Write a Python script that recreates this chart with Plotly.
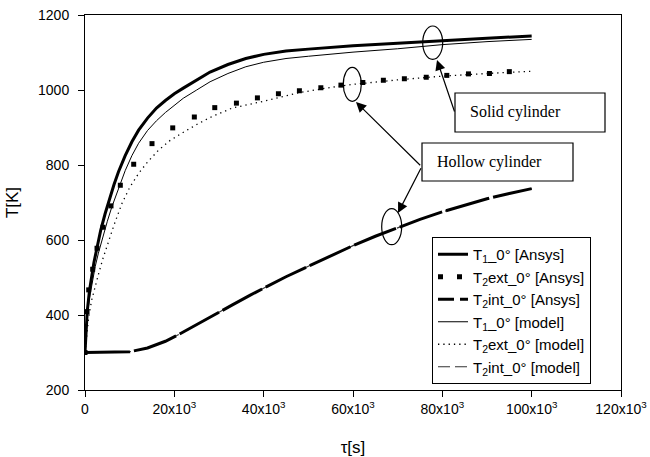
import plotly.graph_objects as go

# ---------------- data ----------------
t_T1_ansys = [0, 250, 500, 1000, 1500, 2000, 2700, 3500, 4500, 5500, 6500, 7500, 9000, 10500, 12000,
              14000, 16000, 18000, 20000, 22000, 25000, 28000, 32000, 36000, 40000, 45000, 50000,
              55000, 60000, 70000, 80000, 90000, 100000]
T1_ansys = [300, 370, 410, 465, 505, 540, 580, 625, 670, 712, 748, 782, 825, 862, 893,
            925, 952, 972, 990, 1005, 1027, 1048, 1068, 1084, 1095, 1104, 1109,
            1114, 1118, 1125, 1132, 1138, 1144]

t_T2ext_ansys = [0, 450, 830, 1720, 2690, 4030, 5820, 7910, 10900, 15000, 19640, 24480, 29050,
                 33900, 38600, 43300, 48000, 52800, 57300, 62200, 66800, 71500, 76400, 81000,
                 85850, 90550, 95000]
T2ext_ansys = [300, 409, 467, 522, 578, 634, 691, 746, 802, 857, 899, 928, 953,
               965, 979, 990, 998, 1006, 1013, 1020, 1026, 1030, 1034, 1039,
               1043, 1044, 1049]

t_T2int = [0, 5000, 10000, 14000, 18000, 21000, 25000, 29000, 33000, 37000, 41000, 45000,
           50000, 55000, 60000, 65000, 70000, 75000, 80000, 85000, 90000, 95000, 100000]
T2int_ansys = [300, 300, 302, 312, 330, 348, 375, 402, 427, 453, 478, 502,
               530, 558, 585, 610, 633, 655, 675, 693, 710, 724, 737]
T2int_model = [300, 300, 302, 312, 330, 348, 375, 402, 427, 453, 478, 502,
               530, 558, 585, 610, 633, 655, 675, 693, 710, 724, 737]

t_T1_model = [0, 250, 500, 1000, 1500, 2300, 3000, 3800, 5000, 6000, 7000, 8000, 9000, 10500,
              12000, 14000, 16000, 18000, 20000, 22000, 25000, 28000, 32000, 36000, 40000,
              45000, 50000, 55000, 60000, 70000, 80000, 90000, 100000]
T1_model = [300, 350, 395, 445, 482, 530, 565, 600, 650, 688, 722, 753, 785, 825,
            858, 892, 918, 940, 960, 978, 1000, 1022, 1044, 1062, 1074,
            1084, 1090, 1096, 1101, 1110, 1121, 1129, 1135]

t_T2ext_model = [0, 400, 830, 1500, 2200, 3070, 4000, 5300, 6500, 8290, 10000, 12030, 14000,
                 16500, 19000, 21700, 25000, 28400, 33000, 40000, 48000, 55000, 60000, 70000,
                 80000, 90000, 100000]
T2ext_model = [300, 355, 395, 440, 475, 511, 550, 600, 640, 698, 740, 778, 808,
               840, 865, 885, 908, 929, 952, 970, 993, 1007, 1015, 1027,
               1037, 1044, 1050]

x_tickvals = [0, 20000, 40000, 60000, 80000, 100000, 120000]
x_ticktext = ["0", "20x10<sup>3</sup>", "40x10<sup>3</sup>", "60x10<sup>3</sup>",
              "80x10<sup>3</sup>", "100x10<sup>3</sup>", "120x10<sup>3</sup>"]
y_tickvals = [200, 400, 600, 800, 1000, 1200]

names = ["T<sub>1</sub>_0° [Ansys]", "T<sub>2</sub>ext_0° [Ansys]", "T<sub>2</sub>int_0° [Ansys]",
         "T<sub>1</sub>_0° [model]", "T<sub>2</sub>ext_0° [model]", "T<sub>2</sub>int_0° [model]"]

# ---------------- layout geometry ----------------
W, H = 650, 457
L, R, T, B = 85, 621, 15, 390
XMIN, XMAX, YMIN, YMAX = 0, 120000, 200, 1200


def px_x(p):
    return XMIN + (p - L) / (R - L) * (XMAX - XMIN)


def px_y(p):
    return YMAX - (p - T) / (B - T) * (YMAX - YMIN)


fig = go.Figure()
blk = "black"

# real data traces (legend handled by dedicated entries where the style differs)
fig.add_trace(go.Scatter(x=t_T2int, y=T2int_model, mode="lines", name=names[5],
                         line=dict(color="#333", width=1.2, dash="12px,5px"),
                         showlegend=False))
fig.add_trace(go.Scatter(x=t_T2int, y=T2int_ansys, mode="lines", name=names[2],
                         line=dict(color=blk, width=3, dash="45px,4px"), showlegend=False))
fig.add_trace(go.Scatter(x=t_T2ext_ansys, y=T2ext_ansys, mode="markers", name=names[1],
                         marker=dict(symbol="square", size=5, color=blk), showlegend=False))

# legend-ordered traces
fig.add_trace(go.Scatter(x=t_T1_ansys, y=T1_ansys, mode="lines", name=names[0],
                         line=dict(color=blk, width=3)))
fig.add_trace(go.Scatter(x=[None], y=[None], mode="lines", name=names[1],
                         line=dict(color=blk, width=5, dash="5px,14px")))
fig.add_trace(go.Scatter(x=[None], y=[None], mode="lines", name=names[2],
                         line=dict(color=blk, width=3, dash="16px,6px")))
fig.add_trace(go.Scatter(x=t_T1_model, y=T1_model, mode="lines", name=names[3],
                         line=dict(color=blk, width=1)))
fig.add_trace(go.Scatter(x=t_T2ext_model, y=T2ext_model, mode="lines", name=names[4],
                         line=dict(color=blk, width=1.3, dash="1.3px,4px")))
fig.add_trace(go.Scatter(x=[None], y=[None], mode="lines", name=names[5],
                         line=dict(color="#333", width=1.2, dash="12px,5px")))

shapes = []
# ellipses
for (cx, cy, rx, ry) in [(432.7, 42.7, 10, 16.7), (352.3, 84.3, 9, 17), (391.7, 226.7, 10, 18)]:
    shapes.append(dict(type="circle", xref="x", yref="y",
                       x0=px_x(cx - rx), x1=px_x(cx + rx), y0=px_y(cy + ry), y1=px_y(cy - ry),
                       line=dict(color=blk, width=1.2), fillcolor="rgba(0,0,0,0)"))
# text boxes
for (x0, y0, x1, y1) in [(455, 93, 605, 132), (422, 143, 573, 181)]:
    shapes.append(dict(type="rect", xref="x", yref="y",
                       x0=px_x(x0), x1=px_x(x1), y0=px_y(y1), y1=px_y(y0),
                       line=dict(color=blk, width=1.2), fillcolor="white"))

annotations = []
tfont = dict(family="Liberation Serif", size=16, color=blk)
annotations.append(dict(x=px_x(468), y=px_y(112), xref="x", yref="y", text="Solid cylinder",
                        showarrow=False, xanchor="left", yanchor="middle", font=tfont))
annotations.append(dict(x=px_x(435), y=px_y(162), xref="x", yref="y", text="Hollow cylinder",
                        showarrow=False, xanchor="left", yanchor="middle", font=tfont))
# arrows
for (tx, ty, hx, hy) in [(455, 113, 437, 60), (421.7, 166.7, 356, 102), (421.7, 166.7, 398, 213)]:
    annotations.append(dict(x=px_x(hx), y=px_y(hy), ax=px_x(tx), ay=px_y(ty),
                            xref="x", yref="y", axref="x", ayref="y", text="",
                            showarrow=True, arrowhead=2, arrowsize=1.7, arrowwidth=1.2,
                            arrowcolor=blk, standoff=0))

fig.update_layout(
    width=W, height=H,
    margin=dict(l=L, r=W - R, t=T, b=H - B, autoexpand=False),
    paper_bgcolor="white", plot_bgcolor="white",
    font=dict(family="Liberation Sans, Arial", size=14, color=blk),
    showlegend=True,
    legend=dict(x=(432 - L) / (R - L), y=(B - 237) / (B - T), xanchor="left", yanchor="top",
                bordercolor=blk, borderwidth=1, bgcolor="white",
                font=dict(family="Liberation Sans, Arial", size=15, color=blk),
                tracegroupgap=0, itemwidth=30, traceorder="normal"),
    shapes=shapes, annotations=annotations,
)

fig.update_xaxes(range=[XMIN, XMAX], tickvals=x_tickvals, ticktext=x_ticktext,
                 showline=True, linecolor=blk, linewidth=1, mirror=True,
                 ticks="outside", ticklen=6, tickcolor=blk, showgrid=False, zeroline=False,
                 tickfont=dict(size=14), automargin=False,
                 title=dict(text="τ[s]", font=dict(size=17), standoff=26))
fig.update_yaxes(range=[YMIN, YMAX], tickvals=y_tickvals,
                 showline=True, linecolor=blk, linewidth=1, mirror=True,
                 ticks="outside", ticklen=6, tickcolor=blk, showgrid=False, zeroline=False,
                 tickfont=dict(size=14), automargin=False, ticklabelstandoff=6,
                 title=dict(text="T[K]", font=dict(size=17), standoff=15))

fig.write_html("out.html")
